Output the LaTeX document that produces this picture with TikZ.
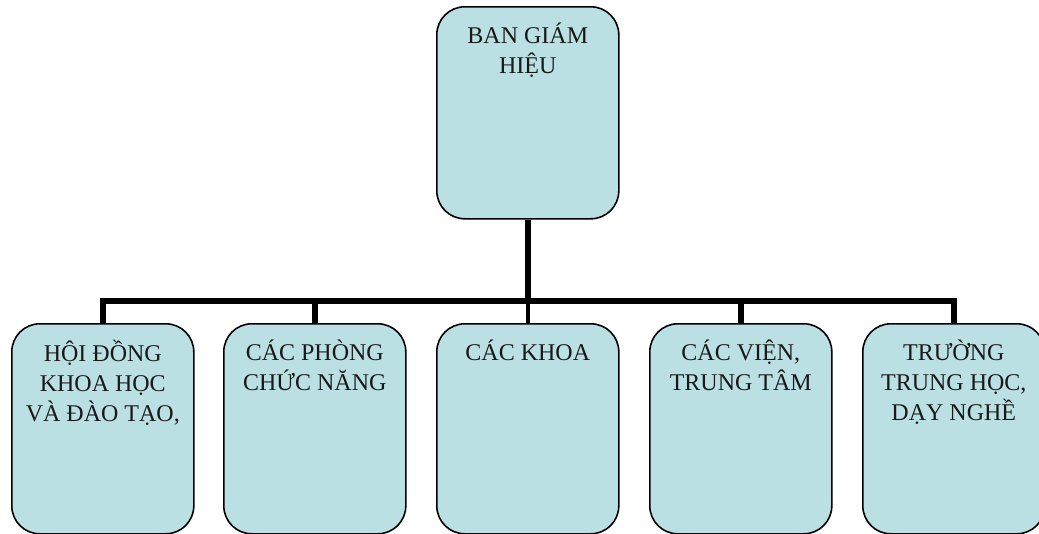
\documentclass[tikz,border=0pt]{standalone}
\usepackage{fontspec}
\setmainfont{Liberation Serif}
\usetikzlibrary{backgrounds}
\definecolor{boxfill}{HTML}{BBE0E3}
\newcommand{\firstline}{\rule{0pt}{24pt}}
\begin{document}
\begin{tikzpicture}[x=1pt,y=-1pt,
  unit/.style={draw=black, fill=boxfill, line width=1.6pt, rounded corners=28pt,
    rectangle, minimum width=182pt, minimum height=210pt, inner sep=0pt, anchor=north west},
  caption/.style={anchor=north, inner sep=0pt, align=center,
    font=\fontsize{24}{30}\selectfont, text=black!90},
  conn/.style={draw=black, line width=5.5pt}]
  \useasboundingbox (0,0) rectangle (1039,533);

  % head of the tree
  \node[unit, minimum height=212pt] (top) at (436,6) {};
  % units below
  \node[unit] (b1) at (11,323) {};
  \node[unit] (b2) at (223,323) {};
  \node[unit] (b3) at (436,323) {};
  \node[unit] (b4) at (649,323) {};
  \node[unit] (b5) at (862,323) {};

  % connectors, kept behind the boxes
  \begin{scope}[on background layer]
    \coordinate (bus) at (top.south |- 0,301);
    \draw[conn] (top.south) -- (bus);
    \draw[conn, line width=4pt] (bus) -- (b3.north);
    \draw[conn] (b1.north) -- (b1.north |- bus) -- (b5.north |- bus) -- (b5.north);
    \draw[conn] (b2.north) -- (b2.north |- bus);
    \draw[conn] (b4.north) -- (b4.north |- bus);
  \end{scope}

  % captions
  \node[caption] (t0) at ([yshift=-13pt]top.north) {\firstline BAN GIÁM\\HIỆU};
  \node[caption] (t1) at ([yshift=-14pt]b1.north) {\firstline HỘI ĐỒNG\\KHOA HỌC\\VÀ ĐÀO TẠO,};
  \node[caption] (t2) at ([yshift=-13pt]b2.north) {\firstline CÁC PHÒNG\\CHỨC NĂNG};
  \node[caption] (t3) at ([yshift=-13pt]b3.north) {\firstline CÁC KHOA};
  \node[caption] (t4) at ([yshift=-13pt]b4.north) {\firstline CÁC VIỆN,\\TRUNG TÂM};
  \node[caption] (t5) at ([yshift=-13pt]b5.north) {\firstline TRƯỜNG\\TRUNG HỌC,\\DẠY NGHỀ};
\end{tikzpicture}
\end{document}
